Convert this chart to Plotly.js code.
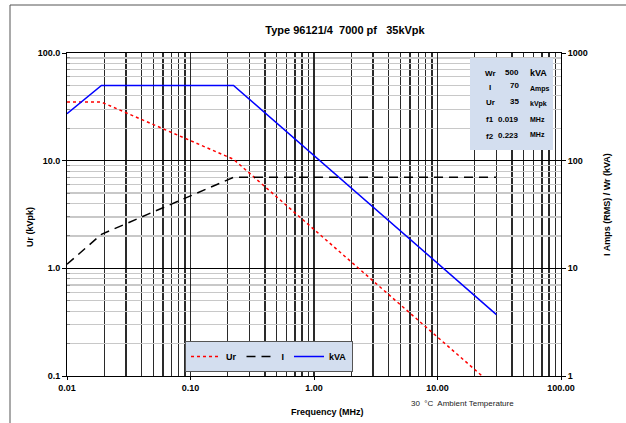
<!DOCTYPE html>
<html>
<head>
<meta charset="utf-8">
<script src="https://cdn.plot.ly/plotly-3.0.1.min.js"></script>
<style>
html,body{margin:0;padding:0;background:#fff;}
#chart{width:626px;height:423px;}
</style>
</head>
<body>
<div id="chart"></div>
<script>
// ---- data ----
const freqMHz = [0.01, 0.019, 0.223, 30];
const urKVpk  = [35, 35, 10.3, 0.0766];
const iAmps   = [10.9, 20.7, 70, 70];
const wrKVA   = [273, 500, 500, 3.72];

const seriesNames = ['Ur', 'I', 'kVA'];

const xTickVals = [0.01, 0.1, 1, 10, 100];
const xTickText = ['0.01', '0.10', '1.00', '10.00', '100.00'];
const yTickVals = [0.1, 1, 10, 100];
const yTickText = ['0.1', '1.0', '10.0', '100.0'];
const y2TickVals = [1, 10, 100, 1000];
const y2TickText = ['1', '10', '100', '1000'];

const infoLabels = ['Wr', 'I', 'Ur', 'f1', 'f2'];
const infoValues = ['500', '70', '35', '0.019', '0.223'];
const infoUnits  = ['kVA', 'Amps', 'kVpk', 'MHz', 'MHz'];

const titleText = 'Type 96121/4  7000 pf   35kVpk';
const xTitle = 'Frequency (MHz)';
const yTitle = 'Ur (kVpk)';
const y2Title = 'I Amps (RMS) / Wr (kVA)';
const noteText = '30  °C  Ambient Temperature';

// ---- layout helpers ----
const W = 626, H = 423;
const L = 67, R = 561, T = 53, B = 376;
const px = x => (x - L) / (R - L);
const py = y => (B - y) / (B - T);

function minorVals(lo, hi) {
  const out = [];
  for (let d = lo; d < hi; d *= 10) for (let m = 2; m <= 9; m++) out.push(+(d * m).toPrecision(3));
  return out;
}

const FONT = 'Liberation Sans, Arial, sans-serif';
const bold = (size, color) => ({family: FONT, size: size, color: color || '#000', weight: 700});

const traces = [
  {x: freqMHz, y: urKVpk, name: seriesNames[0], mode: 'lines', yaxis: 'y',
   line: {color: '#ff0000', width: 1.5, dash: 'dot'}},
  {x: freqMHz, y: iAmps, name: seriesNames[1], mode: 'lines', yaxis: 'y2',
   line: {color: '#000000', width: 1.5, dash: '9px,6px'}},
  {x: freqMHz, y: wrKVA, name: seriesNames[2], mode: 'lines', yaxis: 'y2',
   line: {color: '#0000ff', width: 1.5}}
];

const annotations = [
  {text: xTitle, xref: 'paper', yref: 'paper', x: px(327), y: py(412), showarrow: false,
   font: bold(9), xanchor: 'center', yanchor: 'middle'},
  {text: noteText, xref: 'paper', yref: 'paper', x: px(409), y: py(403), showarrow: false,
   font: {family: FONT, size: 8, color: '#222'}, xanchor: 'left', yanchor: 'middle'},
  {text: yTitle, xref: 'paper', yref: 'paper', x: px(30), y: py(227), showarrow: false,
   textangle: -90, font: bold(9), xanchor: 'center', yanchor: 'middle'},
  {text: y2Title, xref: 'paper', yref: 'paper', x: px(607), y: py(205), showarrow: false,
   textangle: -90, font: bold(9), xanchor: 'center', yanchor: 'middle'}
];

const rowY = [73, 87, 102, 120, 136];
const unitDy = [0, 2, 2, -1, -2];
const unitSize = [9, 7, 7, 7, 7];
infoLabels.forEach((lab, i) => {
  annotations.push({text: lab, xref: 'paper', yref: 'paper', x: px(490), y: py(rowY[i]),
    showarrow: false, font: bold(8), xanchor: 'center', yanchor: 'middle'});
  annotations.push({text: infoValues[i], xref: 'paper', yref: 'paper', x: px(521), y: py(rowY[i] - 1),
    showarrow: false, font: bold(8), xanchor: 'right', yanchor: 'middle'});
  annotations.push({text: infoUnits[i], xref: 'paper', yref: 'paper', x: px(528), y: py(rowY[i] + unitDy[i]),
    showarrow: false, font: bold(unitSize[i]), xanchor: 'left', yanchor: 'middle'});
});

const shapes = [
  // outer chart frame
  {type: 'rect', xref: 'paper', yref: 'paper', x0: px(10), x1: px(700), y0: py(500), y1: py(5),
   line: {color: '#555', width: 1}, fillcolor: 'rgba(0,0,0,0)', layer: 'above'},
  // info box
  {type: 'rect', xref: 'paper', yref: 'paper', x0: px(470), x1: px(553), y0: py(150), y1: py(58),
   line: {width: 0}, fillcolor: '#d3deef', layer: 'above'}
];

const layout = {
  width: W, height: H,
  margin: {l: L, r: W - R, t: T, b: H - B, pad: 0},
  paper_bgcolor: '#fff', plot_bgcolor: '#fff',
  font: {family: FONT, size: 9, color: '#000'},
  title: {text: titleText, font: bold(11), x: px(345), xref: 'paper', xanchor: 'center',
          y: 1 - 30 / H, yref: 'container', yanchor: 'middle'},
  showlegend: true,
  legend: {orientation: 'h', x: px(185), y: py(341), xanchor: 'left', yanchor: 'top',
           bgcolor: '#d3deef', bordercolor: '#555', borderwidth: 1, font: bold(9),
           itemwidth: 30, tracegroupgap: 0},
  xaxis: {type: 'log', range: [-2, 2], tickmode: 'array', tickvals: xTickVals, ticktext: xTickText,
          tickfont: bold(9), ticks: 'outside', ticklen: 3, tickcolor: '#000',
          showline: true, linecolor: '#000', linewidth: 1, mirror: true,
          showgrid: true, gridcolor: '#2a2a2a', gridwidth: 1.3, zeroline: false,
          minor: {tickmode: 'array', tickvals: minorVals(0.01, 100), showgrid: true,
                  gridcolor: '#2a2a2a', gridwidth: 1.3, ticks: ''}},
  yaxis: {type: 'log', range: [-1, 2], tickmode: 'array', tickvals: yTickVals, ticktext: yTickText,
          tickfont: bold(9), ticks: 'outside', ticklen: 4, tickcolor: '#000',
          showline: true, linecolor: '#000', linewidth: 1,
          showgrid: true, gridcolor: '#000', gridwidth: 1.2, zeroline: false,
          minor: {tickmode: 'array', tickvals: minorVals(0.1, 100), showgrid: true,
                  gridcolor: '#c8c8c8', gridwidth: 1.2, ticks: 'inside', ticklen: 3, tickcolor: '#888'}},
  yaxis2: {type: 'log', range: [0, 3], overlaying: 'y', side: 'right', tickmode: 'array',
           tickvals: y2TickVals, ticktext: y2TickText, tickfont: bold(9),
           ticks: 'outside', ticklen: 4, tickcolor: '#000',
           showline: true, linecolor: '#000', linewidth: 1, showgrid: false, zeroline: false},
  annotations: annotations,
  shapes: shapes
};

Plotly.newPlot('chart', traces, layout, {staticPlot: true, displayModeBar: false});
</script>
</body>
</html>
